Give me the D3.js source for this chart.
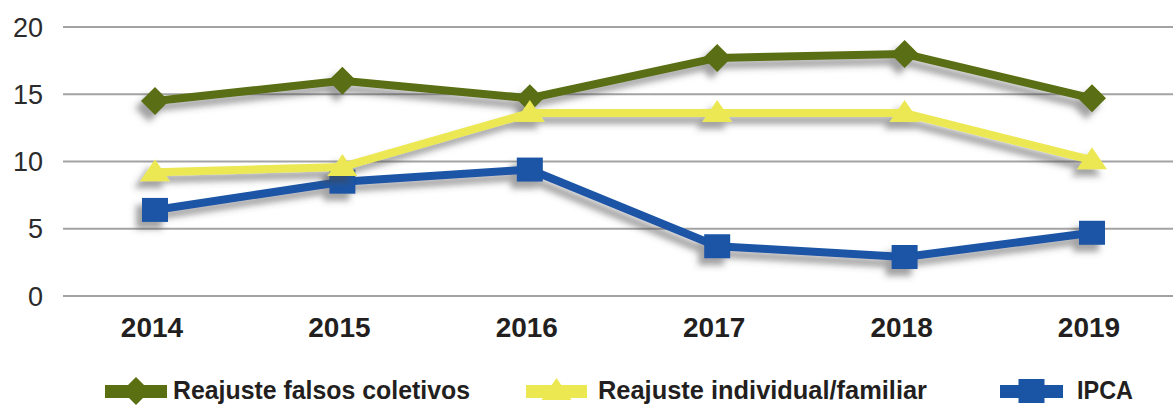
<!DOCTYPE html>
<html>
<head>
<meta charset="utf-8">
<script src="https://cdn.jsdelivr.net/npm/d3@7"></script>
<style>
  body { margin: 0; background: #fff; }
  svg { display: block; }
</style>
</head>
<body>
<figure id="chart" style="margin:0"></figure>
<script>
// data
const years = ["2014", "2015", "2016", "2017", "2018", "2019"];
const falsosColetivos = [14.5, 16.0, 14.7, 17.7, 18.0, 14.7];
const individualFamiliar = [9.2, 9.6, 13.6, 13.6, 13.6, 10.1];
const ipca = [6.4, 8.5, 9.4, 3.7, 2.9, 4.7];
const yTicks = [0, 5, 10, 15, 20];

const width = 1173, height = 405;

const svg = d3.select("#chart")
  .append("svg")
  .attr("width", width)
  .attr("height", height);

// drop shadow like the original
const defs = svg.append("defs");
defs.append("filter")
  .attr("id", "shadow")
  .attr("x", "-20%").attr("y", "-50%")
  .attr("width", "140%").attr("height", "200%")
  .append("feDropShadow")
  .attr("dx", -6).attr("dy", 7)
  .attr("stdDeviation", 3)
  .attr("flood-color", "#444")
  .attr("flood-opacity", 0.5);

const x = d3.scalePoint()
  .domain(years)
  .range([155, 1092]);

const y = d3.scaleLinear()
  .domain([0, 20])
  .range([296, 27]);

// gridlines
svg.append("g")
  .selectAll("line")
  .data(yTicks)
  .enter()
  .append("line")
  .attr("x1", 63)
  .attr("x2", width)
  .attr("y1", d => y(d))
  .attr("y2", d => y(d))
  .attr("stroke", "#a3a3a5")
  .attr("stroke-width", 2);

// y labels
svg.append("g")
  .selectAll("text")
  .data(yTicks)
  .enter()
  .append("text")
  .attr("x", 43)
  .attr("y", d => y(d))
  .attr("dy", "0.36em")
  .attr("text-anchor", "end")
  .style("font-family", "'Liberation Sans', Arial, sans-serif")
  .style("font-size", "27px")
  .style("fill", "#2b2b2b")
  .text(d => d);

// x labels
svg.append("g")
  .selectAll("text")
  .data(years)
  .enter()
  .append("text")
  .attr("x", d => x(d) - 3)
  .attr("y", 337)
  .attr("text-anchor", "middle")
  .style("font-family", "'Liberation Sans', Arial, sans-serif")
  .style("font-weight", "bold")
  .style("font-size", "28px")
  .style("fill", "#231f20")
  .text(d => d);

const series = [
  { name: "Reajuste falsos coletivos", values: falsosColetivos, color: "#5a6e12", marker: "diamond" },
  { name: "IPCA", values: ipca, color: "#1a55a5", marker: "square" },
  { name: "Reajuste individual/familiar", values: individualFamiliar, color: "#ebe852", marker: "triangle" }
];

const markerPath = {
  diamond: "M0,-14L14,0L0,14L-14,0Z",
  square: "M-13,-12L13,-12L13,12L-13,12Z",
  triangle: "M0,-13L15,9L-15,9Z"
};

const line = d3.line()
  .x((d, i) => x(years[i]))
  .y(d => y(d));

series.forEach(s => {
  const g = svg.append("g").attr("filter", "url(#shadow)");
  g.append("path")
    .datum(s.values)
    .attr("d", line)
    .attr("fill", "none")
    .attr("stroke", s.color)
    .attr("stroke-width", 8)
    .attr("stroke-linejoin", "round");
  g.selectAll(".mk")
    .data(s.values)
    .enter()
    .append("path")
    .attr("d", markerPath[s.marker])
    .attr("transform", (d, i) => "translate(" + x(years[i]) + "," + y(d) + ")")
    .attr("fill", s.color);
});

// legend
const legendItems = [
  { name: "Reajuste falsos coletivos", color: "#5a6e12", marker: "diamond", x0: 105, x1: 167, tx: 173, tw: 297 },
  { name: "Reajuste individual/familiar", color: "#ebe852", marker: "triangle", x0: 526, x1: 587, tx: 598, tw: 329 },
  { name: "IPCA", color: "#1a55a5", marker: "square", x0: 1000, x1: 1063, tx: 1077, tw: 56 }
];

const legend = svg.append("g");
legendItems.forEach(l => {
  legend.append("rect")
    .attr("x", l.x0)
    .attr("y", 385)
    .attr("width", l.x1 - l.x0)
    .attr("height", 13)
    .attr("fill", l.color);
  legend.append("path")
    .attr("d", markerPath[l.marker])
    .attr("transform", "translate(" + ((l.x0 + l.x1) / 2) + "," + 391 + ")")
    .attr("fill", l.color);
  legend.append("text")
    .attr("x", l.tx)
    .attr("y", 399)
    .attr("textLength", l.tw)
    .attr("lengthAdjust", "spacingAndGlyphs")
    .style("font-family", "'Liberation Sans', Arial, sans-serif")
    .style("font-weight", "bold")
    .style("font-size", "25px")
    .style("fill", "#231f20")
    .text(l.name);
});
</script>
</body>
</html>
